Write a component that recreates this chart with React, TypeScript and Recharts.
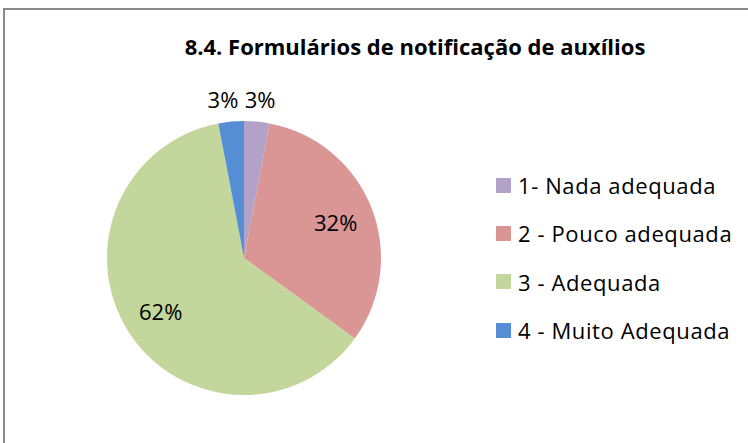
import React from 'react';
import { PieChart, Pie, Cell, Legend } from 'recharts';

const categories = ['1- Nada adequada', '2 - Pouco adequada', '3 - Adequada', '4 - Muito Adequada'];
const values = [3, 32, 62, 3];
const colors = ['#B3A2C7', '#D99694', '#C3D69B', '#558ED5'];
const title = '8.4. Formulários de notificação de auxílios';

const data = categories.map((name, i) => ({ name, value: values[i] }));
const total = values.reduce((a, b) => a + b, 0);

const FONT = '"Open Sans", sans-serif';
const RAD = Math.PI / 180;

const renderLabel = (props: any) => {
  const { cx, cy, midAngle, outerRadius, value } = props;
  const pct = Math.round((value / total) * 100);
  const small = pct < 10;
  const r = small ? outerRadius + 23 : outerRadius * 0.72;
  const cos = Math.cos(-midAngle * RAD);
  const sin = Math.sin(-midAngle * RAD);
  let x = cx + r * cos;
  const y = cy + r * sin;
  if (small) x += cos < 0 ? -6 : 1;
  return (
    <text x={x} y={y} textAnchor="middle" dominantBaseline="central" fill="#000" fontFamily={FONT} fontSize={22}>
      {pct}%
    </text>
  );
};

const renderLegend = () => (
  <div style={{ fontFamily: FONT, fontSize: 22, letterSpacing: 0.6, color: '#000' }}>
    {data.map((d, i) => (
      <div key={d.name} style={{ display: 'flex', alignItems: 'center', height: 48.3 }}>
        <span style={{ width: 15, height: 15, background: colors[i], display: 'inline-block', marginRight: 7 }} />
        <span style={{ whiteSpace: 'nowrap' }}>{d.name}</span>
      </div>
    ))}
  </div>
);

export default function App() {
  return (
    <div
      style={{
        position: 'absolute',
        left: 3,
        top: 8,
        width: 745,
        height: 435,
        borderTop: '2px solid #8a8a8a',
        borderLeft: '2px solid #8a8a8a',
        background: '#fff',
      }}
    >
      <PieChart width={743} height={433}>
        <text x={410} y={45} textAnchor="middle" fontFamily={FONT} fontWeight="bold" fontSize={22} fill="#000">
          {title}
        </text>
        <Pie
          data={data}
          dataKey="value"
          nameKey="name"
          cx={234}
          cy={243}
          outerRadius={137}
          startAngle={90}
          endAngle={-270}
          stroke="none"
          label={renderLabel}
          labelLine={false}
          isAnimationActive={false}
        >
          {data.map((d, i) => (
            <Cell key={d.name} fill={colors[i]} />
          ))}
        </Pie>
        <Legend
          layout="vertical"
          content={renderLegend}
          wrapperStyle={{ left: 491, top: 151, width: 250 }}
        />
      </PieChart>
    </div>
  );
}
